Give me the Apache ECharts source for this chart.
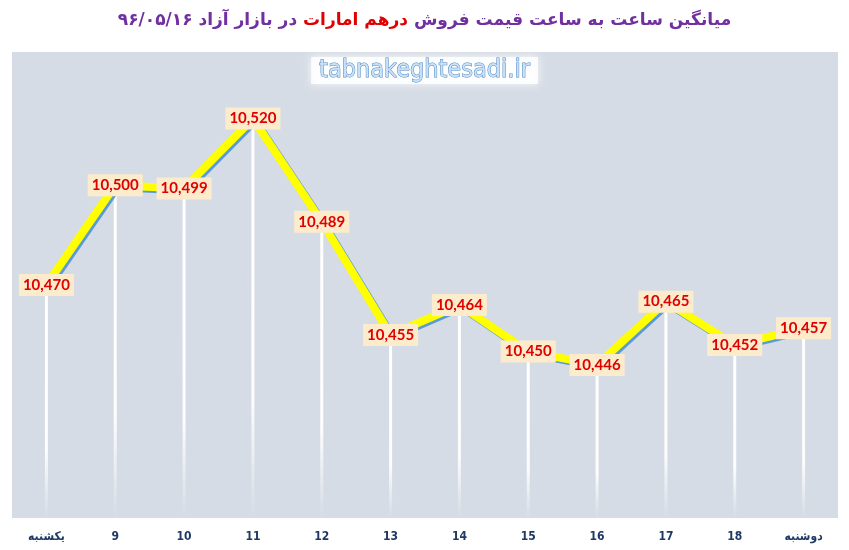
<!DOCTYPE html>
<html><head><meta charset="utf-8">
<script src="https://cdn.jsdelivr.net/npm/echarts@6/dist/echarts.min.js"></script>
<style>html,body{margin:0;padding:0;background:#fff}#c{width:849px;height:550px}</style>
</head><body><div id="c"></div>
<script>
var categories = ['یکشنبه','9','10','11','12','13','14','15','16','17','18','دوشنبه'];
var prices = [10470,10500,10499,10520,10489,10455,10464,10450,10446,10465,10452,10457];
var axisMin = 10400;
var axisMax = 10540;
var titleLeftPart = 'در بازار آزاد ۹۶/۰۵/۱۶';
var titleRedPart = 'درهم امارات';
var titleRightPart = 'میانگین ساعت به ساعت قیمت فروش';
var watermark = 'tabnakeghtesadi.ir';

var baseVals = prices.map(function(){return axisMin;});
var dropVals = prices.map(function(v){return v - axisMin;});

var chart = echarts.init(document.getElementById('c'));
chart.setOption({
  animation:false,
  backgroundColor:'#ffffff',
  title:{
    text:'{p|'+titleLeftPart+' }{r|'+titleRedPart+'}{p| '+titleRightPart+'}',
    left:'center', top:7,
    textStyle:{
      rich:{
        p:{color:'#7030a0',fontFamily:'DejaVu Sans',fontWeight:'bold',fontSize:17},
        r:{color:'#e00000',fontFamily:'DejaVu Sans',fontWeight:'bold',fontSize:17}
      }
    }
  },
  graphic:[{
    type:'text', left:'center', top:57, z:10,
    style:{
      text:watermark, fontFamily:'DejaVu Sans Condensed', fontSize:25, fontWeight:'normal',
      fill:'#c9e0f5', stroke:'#4a86c5', lineWidth:1,
      backgroundColor:'rgba(255,255,255,0.85)', padding:[1,8],
      shadowColor:'rgba(255,255,255,1)', shadowBlur:8
    }
  }],
  grid:{left:12,right:11,top:52,bottom:32,show:true,backgroundColor:'#d6dce5',borderWidth:0},
  xAxis:{
    type:'category', data:categories, boundaryGap:true,
    axisLine:{show:false}, axisTick:{show:false}, splitLine:{show:false},
    axisLabel:{color:'#1f3864',fontWeight:'bold',fontSize:12,fontFamily:'DejaVu Sans Condensed, DejaVu Sans',margin:13,interval:0}
  },
  yAxis:{
    type:'value', min:axisMin, max:axisMax, show:false, splitLine:{show:false}
  },
  series:[
    {type:'bar', stack:'drop', data:baseVals, barWidth:3, silent:true,
     itemStyle:{color:'rgba(0,0,0,0)'}},
    {type:'bar', stack:'drop', data:dropVals, barWidth:3, silent:true,
     itemStyle:{color:new echarts.graphic.LinearGradient(0,0,0,1,[
       {offset:0,color:'rgba(255,255,255,1)'},
       {offset:0.7,color:'rgba(255,255,255,0.95)'},
       {offset:1,color:'rgba(255,255,255,0)'}])}},
    {type:'line', data:prices, z:5,
     symbol:'circle', symbolSize:1, showSymbol:true,
     itemStyle:{color:'rgba(0,0,0,0)'},
     lineStyle:{color:'#ffff00',width:8,shadowColor:'#5b9bd5',shadowOffsetX:2,shadowOffsetY:2,shadowBlur:0},
     label:{show:true,position:'inside',color:'#e00000',fontWeight:'bold',fontSize:15,fontFamily:'Lato',
       backgroundColor:'#fdeccb',padding:[4,4,3,4],
       formatter:function(p){return p.value.toLocaleString('en-US');}}
    }
  ]
});
</script></body></html>
